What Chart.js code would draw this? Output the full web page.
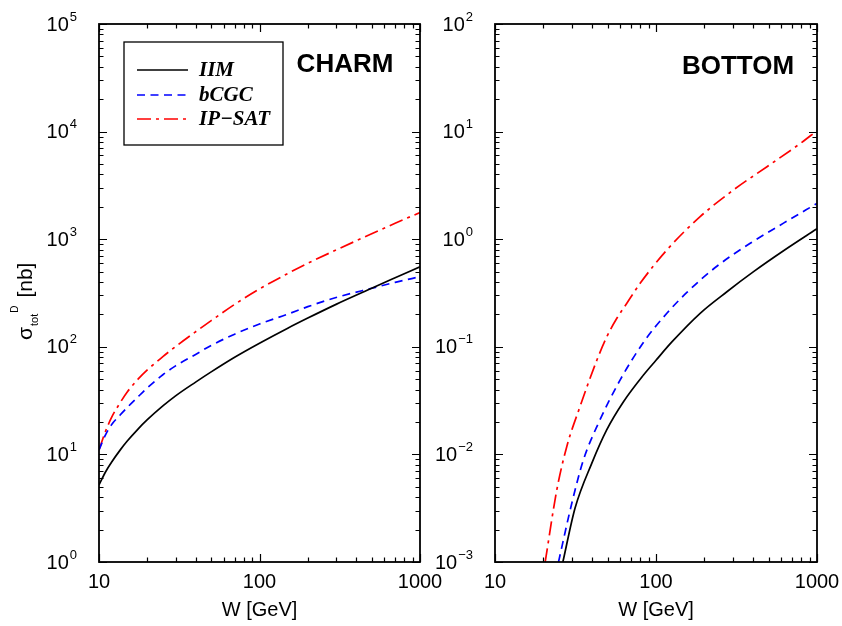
<!DOCTYPE html>
<html lang="en">
<head>
    <meta charset="UTF-8">
    <title>Diffractive heavy quark production: charm and bottom</title>
    <script src="https://cdn.jsdelivr.net/npm/chart.js"></script>
    <style>
        body {
            margin: 0;
            background-color: #fff;
        }

        #wrap {
            position: relative;
            width: 842px;
            height: 626px;
        }

        #wrap canvas {
            position: absolute;
            left: 0;
            top: 0;
        }
    </style>
</head>
<body>
    <div id="wrap">
        <canvas id="charmChart" width="842" height="626"></canvas>
        <canvas id="bottomChart" width="842" height="626"></canvas>
    </div>

    <script>
        // Left panel (charm): W [GeV] and sigma [nb]
        const wCharm = [10, 11, 12, 13.5, 15, 17.5, 20, 25, 30, 40, 50, 70, 100, 150, 200, 300, 500, 700, 1000];
        const charmIIM = [5.2, 6.9, 8.5, 10.9, 13.3, 17.2, 21.0, 28.2, 35, 47, 58.5, 80, 108, 149, 185, 248, 350, 438, 555];
        const charmBCGC = [11, 15.3, 19, 23.1, 27.3, 34.3, 41.5, 55, 66.5, 85, 103, 131, 163, 201, 236, 287, 350, 397, 448];
        const charmIPSAT = [11, 16.5, 22.2, 30, 38, 50, 61, 81, 100.5, 138, 175, 248, 345, 480, 598, 794, 1123, 1405, 1770];

        // Right panel (bottom): each curve starts where it enters the plot
        const wBottomIIM = [26.4, 31.4, 39.9, 49.4, 62.8, 83.6, 100, 125.5, 188, 275.7, 403.6, 619.6, 1000];
        const bottomIIM = [0.001, 0.00316, 0.00826, 0.0169, 0.0309, 0.0547, 0.075, 0.111, 0.205, 0.325, 0.499, 0.78, 1.25];
        const wBottomBCGC = [24.8, 30, 35.4, 43.9, 59.8, 85.6, 116.8, 155.5, 238.8, 384.8, 619.6, 1000];
        const bottomBCGC = [0.001, 0.00352, 0.00887, 0.0195, 0.049, 0.1156, 0.205, 0.32, 0.56, 0.916, 1.41, 2.15];
        const wBottomIPSAT = [20.5, 24.2, 27.9, 33.7, 42.9, 49.5, 57, 65.9, 79.7, 116.8, 188, 303, 489, 787, 1000];
        const bottomIPSAT = [0.001, 0.00467, 0.0118, 0.0277, 0.075, 0.124, 0.183, 0.254, 0.389, 0.794, 1.62, 2.87, 4.72, 7.75, 10.2];

        // Axis labels
        const xTickLabels = [10, 100, 1000];
        const charmExponents = [0, 1, 2, 3, 4, 5];
        const bottomExponents = [-3, -2, -1, 0, 1, 2];
        const seriesNames = ['IIM', 'bCGC', 'IP\u2212SAT'];

        const SANS = '"Liberation Sans", Arial, sans-serif';
        const SERIF = '"Liberation Serif", "Times New Roman", serif';

        const styles = [
            { borderColor: '#000000', borderDash: [] },
            { borderColor: '#0000ff', borderDash: [8, 5.5] },
            { borderColor: '#ff0000', borderDash: [14, 5, 3, 5] }
        ];

        function toPoints(ws, vs) {
            return ws.map((w, i) => ({ x: w, y: vs[i] }));
        }

        function makeDataset(i, ws, vs) {
            return {
                label: seriesNames[i],
                data: toPoints(ws, vs),
                borderColor: styles[i].borderColor,
                borderDash: styles[i].borderDash,
                borderWidth: 1.7,
                pointRadius: 0,
                fill: false,
                cubicInterpolationMode: 'monotone'
            };
        }

        // all decade + minor tick values between min and max
        function logTickValues(min, max) {
            const out = [];
            const lo = Math.round(Math.log10(min));
            const hi = Math.round(Math.log10(max));
            for (let d = lo; d < hi; d++) {
                for (let m = 1; m <= 9; m++) {
                    out.push({ v: m * Math.pow(10, d), major: m === 1 });
                }
            }
            out.push({ v: Math.pow(10, hi), major: true });
            return out;
        }

        // frame, inward ticks, tick labels, titles and legend box
        const frameAxes = {
            id: 'frameAxes',
            afterDatasetsDraw(chart, args, opts) {
                const ctx = chart.ctx;
                const a = chart.chartArea;
                const xs = chart.scales.x;
                const ys = chart.scales.y;
                ctx.save();
                ctx.strokeStyle = '#000';
                ctx.fillStyle = '#000';

                // ticks on all four sides
                ctx.lineWidth = 1.2;
                ctx.beginPath();
                logTickValues(xs.min, xs.max).forEach(t => {
                    const px = Math.round(xs.getPixelForValue(t.v)) + 0.5;
                    const len = t.major ? 8 : 4.5;
                    ctx.moveTo(px, a.bottom); ctx.lineTo(px, a.bottom - len);
                    ctx.moveTo(px, a.top); ctx.lineTo(px, a.top + len);
                });
                logTickValues(ys.min, ys.max).forEach(t => {
                    const py = Math.round(ys.getPixelForValue(t.v)) + 0.5;
                    const len = t.major ? 8 : 4.5;
                    ctx.moveTo(a.left, py); ctx.lineTo(a.left + len, py);
                    ctx.moveTo(a.right, py); ctx.lineTo(a.right - len, py);
                });
                ctx.stroke();

                // frame
                ctx.lineWidth = 1.8;
                ctx.strokeRect(a.left, a.top, a.right - a.left, a.bottom - a.top);

                // x tick labels
                ctx.font = '20px ' + SANS;
                ctx.textAlign = 'center';
                ctx.textBaseline = 'middle';
                xTickLabels.forEach(v => {
                    ctx.fillText(String(v), xs.getPixelForValue(v), a.bottom + 20);
                });
                ctx.fillText('W [GeV]', (a.left + a.right) / 2, a.bottom + 48);

                // y tick labels as 10 with superscript exponent
                ctx.textAlign = 'left';
                opts.exponents.forEach(e => {
                    const py = ys.getPixelForValue(Math.pow(10, e));
                    const sup = e < 0 ? '\u2212' + Math.abs(e) : String(e);
                    ctx.font = '20px ' + SANS;
                    const wBase = ctx.measureText('10').width;
                    ctx.font = '13px ' + SANS;
                    const wSup = ctx.measureText(sup).width;
                    const x0 = a.left - 22 - wBase - wSup - 1;
                    ctx.font = '20px ' + SANS;
                    ctx.fillText('10', x0, py + 1);
                    ctx.font = '13px ' + SANS;
                    ctx.fillText(sup, x0 + wBase + 1, py - 7);
                });

                // y axis title: sigma_tot^D [nb]
                if (opts.yTitle) {
                    ctx.save();
                    ctx.translate(32, 340);
                    ctx.rotate(-Math.PI / 2);
                    ctx.textBaseline = 'alphabetic';
                    ctx.textAlign = 'left';
                    let x = 0;
                    ctx.font = '21px ' + SANS;
                    ctx.fillText('\u03c3', x, 0);
                    x += ctx.measureText('\u03c3').width + 1;
                    ctx.font = '11px ' + SANS;
                    ctx.fillText('tot', x, 5.5);
                    x += ctx.measureText('tot').width + 1;
                    ctx.font = '10px ' + SANS;
                    ctx.fillText('D', x, -14);
                    x += ctx.measureText('D').width + 8;
                    ctx.font = '21px ' + SANS;
                    ctx.fillText('[nb]', x, 0);
                    ctx.restore();
                }

                // panel label
                ctx.font = 'bold 26px ' + SANS;
                ctx.textAlign = 'center';
                ctx.textBaseline = 'middle';
                ctx.fillText(opts.panel.text, a.right - opts.panel.dx, a.top + opts.panel.dy);

                // legend box
                if (opts.legendBox) {
                    const bx = a.left + 25, by = a.top + 18;
                    ctx.lineWidth = 1.3;
                    ctx.strokeRect(bx, by, 159, 103);
                    const rows = [46, 71, 95];
                    chart.data.datasets.forEach((ds, i) => {
                        const yy = a.top + rows[i];
                        ctx.save();
                        ctx.strokeStyle = ds.borderColor;
                        ctx.lineWidth = 1.7;
                        ctx.setLineDash(ds.borderDash);
                        ctx.beginPath();
                        ctx.moveTo(a.left + 38, yy);
                        ctx.lineTo(a.left + 89, yy);
                        ctx.stroke();
                        ctx.restore();
                        ctx.font = 'italic bold 21px ' + SERIF;
                        ctx.textAlign = 'left';
                        ctx.textBaseline = 'middle';
                        ctx.fillText(ds.label, a.left + 100, yy + 1);
                    });
                }
                ctx.restore();
            }
        };

        function makeChart(id, datasets, yMin, yMax, padding, extra) {
            return new Chart(document.getElementById(id).getContext('2d'), {
                type: 'line',
                data: { datasets: datasets },
                options: {
                    responsive: false,
                    animation: false,
                    layout: { padding: padding },
                    scales: {
                        x: { type: 'logarithmic', min: 10, max: 1000, display: false },
                        y: { type: 'logarithmic', min: yMin, max: yMax, display: false }
                    },
                    plugins: {
                        legend: { display: false },
                        tooltip: { enabled: false },
                        frameAxes: extra
                    }
                },
                plugins: [frameAxes]
            });
        }

        makeChart('charmChart', [
            makeDataset(0, wCharm, charmIIM),
            makeDataset(1, wCharm, charmBCGC),
            makeDataset(2, wCharm, charmIPSAT)
        ], 1, 1e5, { left: 99, right: 422, top: 24, bottom: 64 }, {
            exponents: charmExponents,
            yTitle: true,
            legendBox: true,
            panel: { text: 'CHARM', dx: 75, dy: 41 }
        });

        makeChart('bottomChart', [
            makeDataset(0, wBottomIIM, bottomIIM),
            makeDataset(1, wBottomBCGC, bottomBCGC),
            makeDataset(2, wBottomIPSAT, bottomIPSAT)
        ], 1e-3, 1e2, { left: 495, right: 25, top: 24, bottom: 64 }, {
            exponents: bottomExponents,
            yTitle: false,
            legendBox: false,
            panel: { text: 'BOTTOM', dx: 79, dy: 43 }
        });
    </script>
</body>
</html>
